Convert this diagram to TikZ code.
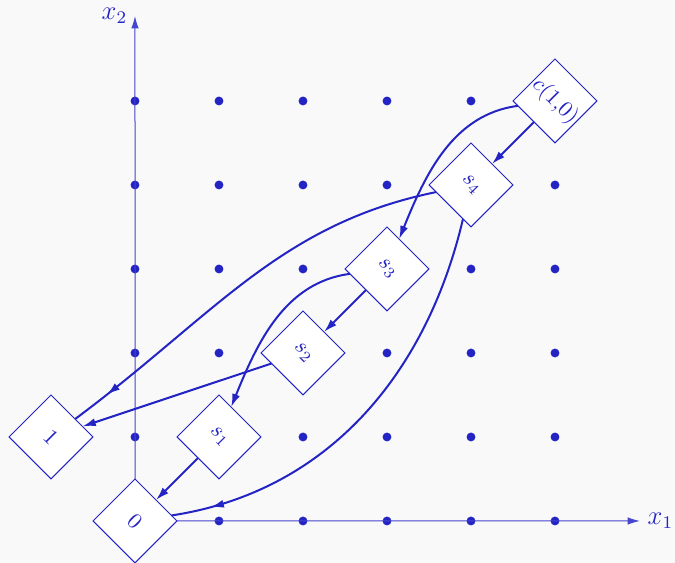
\documentclass[tikz,border=0pt]{standalone}
\usepackage{amsmath}
\usepackage{tikz}
\usetikzlibrary{arrows.meta, decorations.markings}
\definecolor{lineblue}{RGB}{36,36,196}
\definecolor{bggray}{RGB}{249,249,250}

\begin{document}
\begin{tikzpicture}[
  x=37.8pt, y=37.8pt,
  state/.style={rectangle, draw=lineblue, line width=0.45pt, fill=white, minimum size=26.7pt, inner sep=0pt, outer sep=0pt, rotate=-45, text=lineblue},
  axis/.style={draw=lineblue!85, line width=0.45pt, -{Latex[length=5.5pt,width=3.4pt]}},
  arrow/.style={draw=lineblue, line width=0.9pt, -{Latex[length=6pt,width=3.6pt]}},
  late/.style={draw=lineblue, line width=0.9pt, postaction={decorate},
    decoration={markings, mark=at position -18pt with {\arrow{Latex[length=6pt,width=3.6pt]}}}},
  dot/.style={circle, fill=lineblue, inner sep=0pt, minimum size=4pt},
  lbl/.style={font=\large, text=lineblue}
]
\fill[bggray] (-1.607,-0.5) rectangle (6.4286,6.202);
\useasboundingbox (-1.607,-0.5) rectangle (6.4286,6.202);
% lattice points (the diagonal holds the states)
\foreach \i in {0,...,5}
  \foreach \j in {0,...,5}{
    \ifnum\i=\j\relax\else\node[dot] (p\i\j) at (\i,\j) {};\fi
  }
% states
\node[state] (n0) at (0,0) {$0$};
\node[state] (n1) at (-1,1) {$1$};
\node[state] (s1) at (1,1) {$s_1$};
\node[state] (s2) at (2,2) {$s_2$};
\node[state] (s3) at (3,3) {$s_3$};
\node[state] (s4) at (4,4) {$s_4$};
\node[state] (c10) at (5,5) {$c(1{,}0)$};
% axes
\coordinate (x1tip) at (6.01,0);
\coordinate (x2tip) at (0,6.01);
\draw[axis] (n0) -- (x1tip);
\draw[axis] (n0) -- (x2tip);
\node[lbl, right] (x1lbl) at (x1tip) {$x_1$};
\node[lbl, left] (x2lbl) at (x2tip) {$x_2$};
% transitions
\draw[arrow] (c10) -- (s4);
\draw[arrow] (c10) to[out=200, in=80] (s3);
\draw[late] (s4) to[out=198, in=45] (n1);
\draw[late] (s4) to[out=263, in=15] (n0);
\draw[arrow] (s3) -- (s2);
\draw[arrow] (s3) to[out=200, in=80] (s1);
\draw[arrow] (s2) -- (n1);
\draw[arrow] (s1) -- (n0);
\end{tikzpicture}
\end{document}
